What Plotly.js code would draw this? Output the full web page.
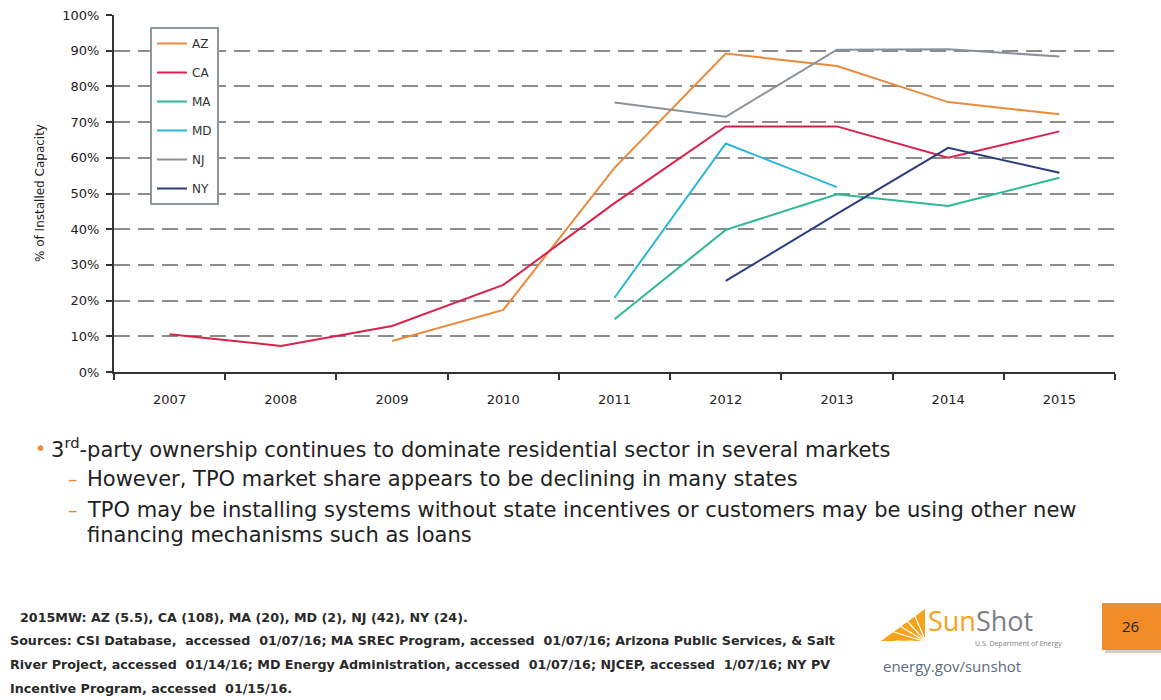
<!DOCTYPE html>
<html>
<head>
<meta charset="utf-8">
<script src="https://cdn.plot.ly/plotly-3.0.1.min.js"></script>
<style>html,body{margin:0;padding:0;background:#fff;}#chart{width:1161px;height:700px;}</style>
</head>
<body>
<div id="chart"></div>
<script>
// ---- data ----
const years = ['2007','2008','2009','2010','2011','2012','2013','2014','2015'];
const seriesNames = ['AZ','CA','MA','MD','NJ','NY'];
const AZ = [null, null, 8.7, 17.4, 57.2, 89.2, 85.7, 75.6, 72.2];
const CA = [10.6, 7.3, 12.9, 24.4, 47.3, 68.8, 68.8, 60.0, 67.4];
const MA = [null, null, null, null, 14.8, 39.8, 49.8, 46.5, 54.4];
const MD = [null, null, null, null, 20.8, 64.0, 51.8, null, null];
const NJ = [null, null, null, null, 75.5, 71.5, 90.3, 90.4, 88.4];
const NY = [null, null, null, null, null, 25.5, 44.3, 62.8, 55.8];
const yTicks = [0,10,20,30,40,50,60,70,80,90,100];
const yTickText = ['0%','10%','20%','30%','40%','50%','60%','70%','80%','90%','100%'];
const colors = ['#E98A3C','#D9214B','#2DB896','#2BB5D9','#8A9199','#2D3E7E'];
const allSeries = [AZ, CA, MA, MD, NJ, NY];

// ---- layout helpers (pixel -> paper) ----
const L = 114, T = 15, W = 1001, H = 357;
const fx = p => (p - L) / W;
const fy = p => (T + H - p) / H;

const traces = allSeries.map((vals, i) => ({
  type: 'scatter', mode: 'lines', name: seriesNames[i],
  x: years, y: vals, legendgroup: seriesNames[i],
  line: {color: colors[i], width: 2},
  connectgaps: false, hoverinfo: 'x+y+name'
}));

const textFont = {family: 'DejaVu Sans, sans-serif', size: 21, color: '#222'};
const noteFont = {family: 'DejaVu Sans, sans-serif', size: 12.7, color: '#2a2a2a', weight: 'bold'};

const ann = [
  {x: fx(40), y: fy(193), text: '% of Installed Capacity', textangle: -90,
   font: {family: 'DejaVu Sans, sans-serif', size: 12, color: '#222'}, xanchor: 'center', yanchor: 'middle'},
  {x: fx(33), y: fy(448), text: '•', font: {family: 'DejaVu Sans', size: 19, color: '#E98A3C'}, xanchor: 'left', yanchor: 'middle'},
  {x: fx(49), y: fy(448), text: '3<sup>rd</sup>-party ownership continues to dominate residential sector in several markets', font: textFont, xanchor: 'left', yanchor: 'middle'},
  {x: fx(66), y: fy(479), text: '–', font: {family: 'DejaVu Sans', size: 19, color: '#E98A3C'}, xanchor: 'left', yanchor: 'middle'},
  {x: fx(85), y: fy(479), text: 'However, TPO market share appears to be declining in many states', font: textFont, xanchor: 'left', yanchor: 'middle'},
  {x: fx(66), y: fy(510), text: '–', font: {family: 'DejaVu Sans', size: 19, color: '#E98A3C'}, xanchor: 'left', yanchor: 'middle'},
  {x: fx(85), y: fy(510), text: 'TPO may be installing systems without state incentives or customers may be using other new', font: textFont, xanchor: 'left', yanchor: 'middle'},
  {x: fx(85), y: fy(535), text: 'financing mechanisms such as loans', font: textFont, xanchor: 'left', yanchor: 'middle'},
  {x: fx(18), y: fy(617), text: '2015MW: AZ (5.5), CA (108), MA (20), MD (2), NJ (42), NY (24).', font: noteFont, xanchor: 'left', yanchor: 'middle'},
  {x: fx(8), y: fy(640), text: 'Sources: CSI Database,  accessed  01/07/16; MA SREC Program, accessed  01/07/16; Arizona Public Services, & Salt', font: noteFont, xanchor: 'left', yanchor: 'middle'},
  {x: fx(8), y: fy(664), text: 'River Project, accessed  01/14/16; MD Energy Administration, accessed  01/07/16; NJCEP, accessed  1/07/16; NY PV', font: noteFont, xanchor: 'left', yanchor: 'middle'},
  {x: fx(8), y: fy(688), text: 'Incentive Program, accessed  01/15/16.', font: noteFont, xanchor: 'left', yanchor: 'middle'},
  {x: fx(926), y: fy(620), text: '<span style="color:#F5A31A">Sun</span><span style="color:#7B7F85">Shot</span>',
   font: {family: 'Open Sans, sans-serif', size: 27, color: '#7B7F85'}, xanchor: 'left', yanchor: 'middle'},
  {x: fx(1064), y: fy(643), text: 'U.S. Department of Energy', font: {family: 'Open Sans, sans-serif', size: 7, color: '#7B7F85'}, xanchor: 'right', yanchor: 'middle'},
  {x: fx(881), y: fy(666), text: 'energy.gov/sunshot', font: {family: 'Open Sans, sans-serif', size: 15, color: '#5C6B80'}, xanchor: 'left', yanchor: 'middle'},
  {x: fx(1130), y: fy(626), text: '26', font: {family: 'Open Sans, sans-serif', size: 15, color: '#222'}, xanchor: 'center', yanchor: 'middle'}
];

const shapes = [
  {type: 'rect', xref: 'paper', yref: 'paper', x0: fx(1105), x1: fx(1163), y0: fy(606), y1: fy(653), fillcolor: '#cfcfcf', line: {width: 0}, layer: 'below'},
  {type: 'rect', xref: 'paper', yref: 'paper', x0: fx(1102), x1: fx(1161), y0: fy(603), y1: fy(650), fillcolor: '#F28C28', line: {width: 0}},
  {type: 'path', xref: 'paper', yref: 'paper', path: `M ${fx(881)} ${fy(641)} L ${fx(925)} ${fy(609)} L ${fx(925)} ${fy(641)} Z`, fillcolor: '#F5A31A', line: {width: 0}}
];
[[881,628],[890,620],[900,613],[912,609],[895,641],[908,641]].forEach(p => {
  shapes.push({type: 'line', xref: 'paper', yref: 'paper', x0: fx(926), y0: fy(642), x1: fx(p[0]), y1: fy(p[1]), line: {color: '#ffffff', width: 1.2}});
});

const layout = {
  width: 1161, height: 700,
  margin: {l: L, r: 1161 - L - W, t: T, b: 700 - T - H},
  paper_bgcolor: '#ffffff', plot_bgcolor: '#ffffff',
  font: {family: 'DejaVu Sans, sans-serif', size: 13, color: '#222'},
  showlegend: true,
  legend: {x: fx(150), y: fy(27), xanchor: 'left', yanchor: 'top',
    bgcolor: '#ffffff', bordercolor: '#8F969C', borderwidth: 2,
    font: {family: 'DejaVu Sans, sans-serif', size: 12, color: '#333'},
    tracegroupgap: 10, traceorder: 'grouped'},
  xaxis: {type: 'category', range: [-0.5, 8.5], tickson: 'boundaries',
    showline: true, linecolor: '#333', linewidth: 2,
    ticks: 'outside', ticklen: 6, tickcolor: '#333', tickwidth: 2,
    ticklabelstandoff: 14,
    showgrid: false, zeroline: false, fixedrange: true,
    tickfont: {family: 'DejaVu Sans, sans-serif', size: 13, color: '#222'}},
  yaxis: {range: [0, 100], tickmode: 'array', tickvals: yTicks, ticktext: yTickText,
    showline: true, linecolor: '#333', linewidth: 2,
    ticks: 'outside', ticklen: 6, tickcolor: '#333', tickwidth: 2,
    ticklabelstandoff: 4,
    showgrid: true, gridcolor: '#8c8c8c', gridwidth: 2, griddash: '16px,8px',
    zeroline: false, fixedrange: true,
    tickfont: {family: 'DejaVu Sans, sans-serif', size: 13, color: '#222'}},
  annotations: ann.map(a => Object.assign({xref: 'paper', yref: 'paper', showarrow: false}, a)),
  shapes: shapes
};

Plotly.newPlot('chart', traces, layout, {displayModeBar: false, staticPlot: true});
</script>
</body>
</html>
